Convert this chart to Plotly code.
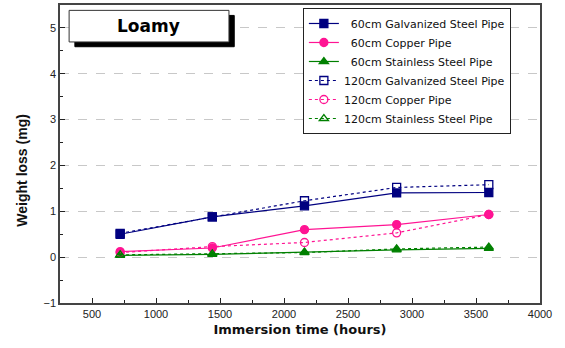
import plotly.graph_objects as go

hours = [720, 1440, 2160, 2880, 3600]
gal_60 = [0.50, 0.88, 1.12, 1.40, 1.41]
cu_60 = [0.12, 0.20, 0.60, 0.71, 0.93]
ss_60 = [0.04, 0.06, 0.11, 0.16, 0.19]
gal_120 = [0.52, 0.88, 1.23, 1.52, 1.58]
cu_120 = [0.10, 0.23, 0.32, 0.53, 0.93]
ss_120 = [0.05, 0.07, 0.10, 0.18, 0.22]

names = ["  60cm Galvanized Steel Pipe", "  60cm Copper Pipe", "  60cm Stainless Steel Pipe",
         "120cm Galvanized Steel Pipe", "120cm Copper Pipe", "120cm Stainless Steel Pipe"]

NAVY = "#000080"
PINK = "#FF1493"
GREEN = "#008000"

series = [
    (gal_60, names[0], NAVY, "square", "solid"),
    (cu_60, names[1], PINK, "circle", "solid"),
    (ss_60, names[2], GREEN, "triangle-up", "solid"),
    (gal_120, names[3], NAVY, "square-open", "dot"),
    (cu_120, names[4], PINK, "circle-open", "dot"),
    (ss_120, names[5], GREEN, "triangle-up-open", "dot"),
]

fig = go.Figure()
for vals, name, color, sym, dash in series:
    fig.add_trace(go.Scatter(
        x=hours, y=vals, name=name, mode="lines+markers",
        line=dict(color=color, width=1.2, dash=dash),
        marker=dict(symbol=sym, size=8, color=color, line=dict(color=color, width=1.3)),
    ))

fig.update_layout(
    width=565, height=348,
    margin=dict(l=60, r=25, t=5, b=45, autoexpand=False),
    paper_bgcolor="white", plot_bgcolor="white",
    font=dict(family="Arial", color="#222"),
    showlegend=True,
    legend=dict(
        x=0.506, y=0.99, xanchor="left", yanchor="top",
        bordercolor="#222", borderwidth=1, bgcolor="white",
        font=dict(family="DejaVu Sans", size=11, color="#111"),
        tracegroupgap=0, itemwidth=30,
    ),
    xaxis=dict(
        range=[250, 4000], tickvals=[500, 1000, 1500, 2000, 2500, 3000, 3500, 4000],
        ticks="inside", ticklen=5, tickcolor="#222", automargin=False,
        minor=dict(dtick=250, ticks="inside", ticklen=3, tickcolor="#222"),
        showgrid=False, zeroline=False,
        showline=True, linecolor="#444", linewidth=1.5, mirror=True,
        tickfont=dict(family="Liberation Sans", size=11, color="#222"),
        title=dict(text="<b>Immersion time (hours)</b>", font=dict(family="DejaVu Sans", size=13, color="#111"), standoff=6),
    ),
    yaxis=dict(
        range=[-1, 5.5], tickvals=[-1, 0, 1, 2, 3, 4, 5],
        ticks="inside", ticklen=5, tickcolor="#222", automargin=False,
        minor=dict(dtick=0.5, ticks="inside", ticklen=3, tickcolor="#222"),
        showgrid=True, gridcolor="#c8c8c8", griddash="dash", gridwidth=1,
        zeroline=False,
        showline=True, linecolor="#444", linewidth=1.5, mirror=True,
        tickfont=dict(family="Liberation Sans", size=11, color="#222"),
    ),
)

# Y axis title (placed slightly below centre as in the original)
fig.add_annotation(text="<b>Weight loss (mg)</b>", xref="paper", yref="paper", x=-0.078, y=0.446,
                   xanchor="center", yanchor="middle", textangle=-90,
                   showarrow=False, font=dict(family="Arial", size=14, color="#111"))

# Title box with drop shadow
fig.add_shape(type="rect", xref="paper", yref="paper", x0=0.031, x1=0.363, y0=0.86, y1=0.965,
              fillcolor="black", line=dict(color="black", width=1), layer="above")
fig.add_shape(type="rect", xref="paper", yref="paper", x0=0.019, x1=0.352, y0=0.876, y1=0.982,
              fillcolor="white", line=dict(color="#333", width=1), layer="above")
fig.add_annotation(text="<b>Loamy</b>", xref="paper", yref="paper", x=0.185, y=0.929,
                   xanchor="center", yanchor="middle",
                   showarrow=False, font=dict(family="DejaVu Sans", size=17, color="black"))

fig.write_html("out.html", config={"displayModeBar": False},
               post_script="document.body.style.margin='0';")
